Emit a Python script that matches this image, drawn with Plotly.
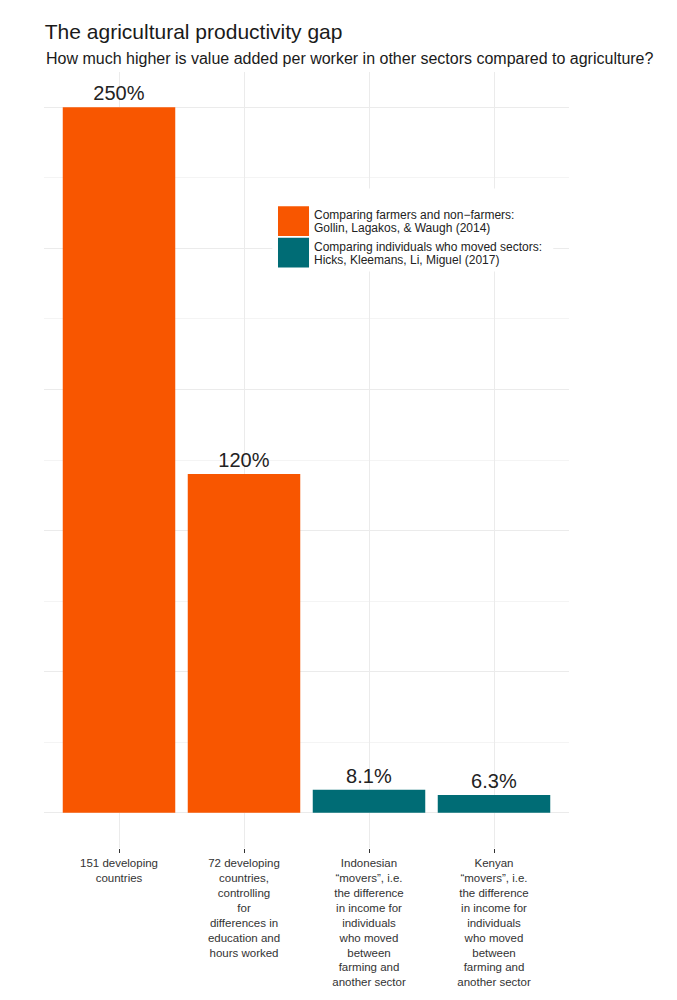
import plotly.graph_objects as go

# The agricultural productivity gap - bar chart recreation

categories = [
    "151 developing<br>countries",
    "72 developing<br>countries,<br>controlling<br>for<br>differences in<br>education and<br>hours worked",
    "Indonesian<br>“movers”, i.e.<br>the difference<br>in income for<br>individuals<br>who moved<br>between<br>farming and<br>another sector",
    "Kenyan<br>“movers”, i.e.<br>the difference<br>in income for<br>individuals<br>who moved<br>between<br>farming and<br>another sector",
]
gap_pct = [250, 120, 8.1, 6.3]
study = ["gollin", "gollin", "hicks", "hicks"]

legend_lines = {
    "gollin": ["Comparing farmers and non−farmers:", "Gollin, Lagakos, & Waugh (2014)"],
    "hicks": ["Comparing individuals who moved sectors:", "Hicks, Kleemans, Li, Miguel (2017)"],
}
colors = {"gollin": "#F85600", "hicks": "#006C75"}

FONT = "Liberation Sans, Arial, sans-serif"

fig = go.Figure()
for key in ["gollin", "hicks"]:
    xs = [c for c, s in zip(categories, study) if s == key]
    ys = [v for v, s in zip(gap_pct, study) if s == key]
    fig.add_trace(go.Bar(
        x=xs, y=ys, width=0.9,
        marker=dict(color=colors[key], line=dict(width=0)),
        texttemplate="%{y}%", textposition="outside",
        textfont=dict(size=20, color="#222222", family=FONT),
        cliponaxis=False, showlegend=False,
        name=" ".join(legend_lines[key]),
    ))

# legend drawn in the panel like the original (big square keys)
fig.add_shape(type="rect", xref="paper", yref="paper",
              x0=0.435, x1=0.970, y0=0.743, y1=0.850,
              fillcolor="white", line=dict(width=0), layer="above")
key_boxes = {"gollin": (0.8270, 0.7888), "hicks": (0.7863, 0.7481)}
for key, (top, bottom) in key_boxes.items():
    fig.add_shape(type="rect", xref="paper", yref="paper",
                  x0=0.4457, x1=0.5048, y0=bottom, y1=top,
                  fillcolor=colors[key], line=dict(width=0), layer="above")
    mid = (top + bottom) / 2 - 0.001
    for i, line in enumerate(legend_lines[key]):
        fig.add_annotation(xref="paper", yref="paper", x=0.5105,
                           y=mid + (0.0085 if i == 0 else -0.0085),
                           xanchor="left", yanchor="middle", showarrow=False,
                           text=line, font=dict(size=12, color="#222222", family=FONT))

fig.add_annotation(xref="paper", yref="paper", x=0, y=1.0175,
                   xanchor="left", yanchor="middle", showarrow=False,
                   text="How much higher is value added per worker in other sectors compared to agriculture?",
                   font=dict(size=16, color="#1A1A1A", family=FONT))

# page body has an 8px margin, so the figure is drawn 8px smaller
fig.update_layout(
    width=669, height=992,
    margin=dict(l=36, r=108, t=64, b=142),
    paper_bgcolor="white", plot_bgcolor="white",
    barmode="relative",
    font=dict(family=FONT, color="#333333"),
    title=dict(text="The agricultural productivity gap", x=0.055, xanchor="left",
               y=0.976, yanchor="middle",
               font=dict(size=21, color="#1A1A1A", family=FONT)),
)
fig.update_xaxes(
    range=[-0.6, 3.6], showgrid=True, gridcolor="#EBEBEB", gridwidth=1.2,
    showline=False, zeroline=False,
    ticks="outside", ticklen=4, tickcolor="#333333", tickwidth=1,
    tickfont=dict(size=11.5, color="#333333", family=FONT),
)
fig.update_yaxes(
    range=[-12.5, 262.5], tick0=0, dtick=50, showticklabels=False,
    showgrid=True, gridcolor="#EBEBEB", gridwidth=1.2, zeroline=False, showline=False,
    minor=dict(tick0=0, dtick=25, showgrid=True, gridcolor="#F4F4F4", gridwidth=0.7),
)

fig.write_html("out.html")
